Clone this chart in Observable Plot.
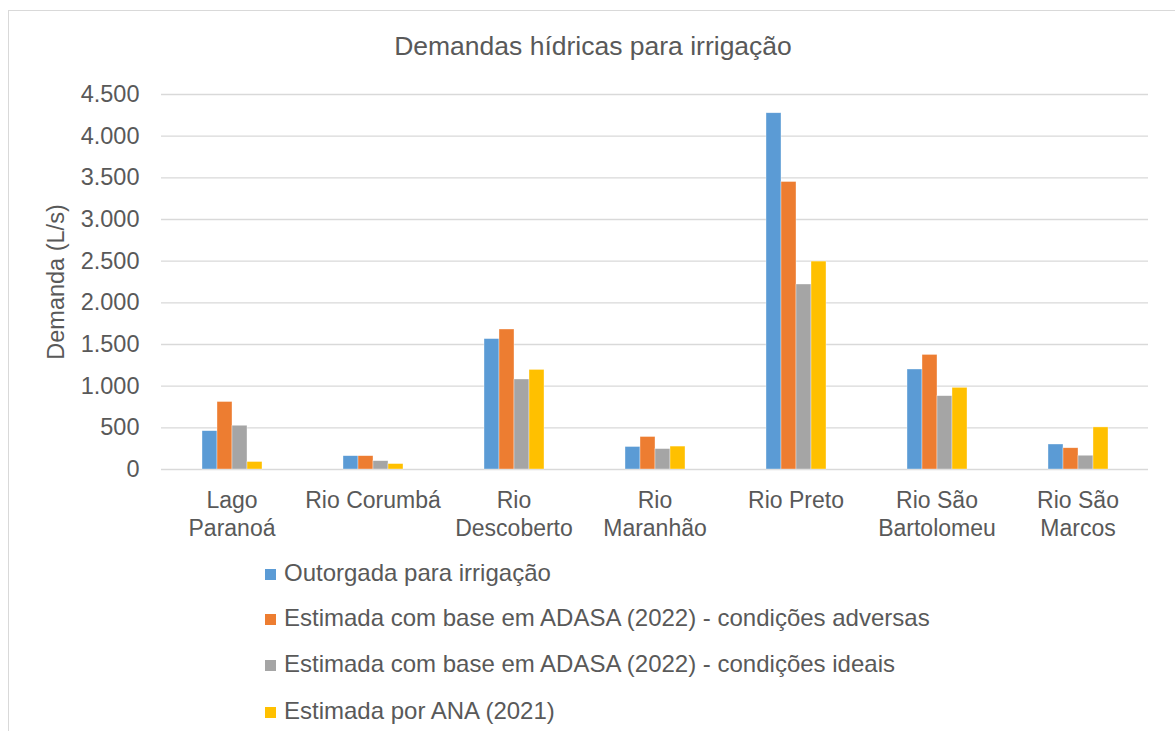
<!DOCTYPE html>
<html>
<head>
<meta charset="utf-8">
<script src="https://cdn.jsdelivr.net/npm/d3@7"></script>
<script src="https://cdn.jsdelivr.net/npm/@observablehq/plot@0.6"></script>
<style>
  body { margin: 0; background: #fff; font-family: "Liberation Sans", Arial, sans-serif; }
  #wrap { position: relative; width: 1175px; height: 731px; overflow: hidden; }
  #frame { position: absolute; left: 8px; top: 10px; width: 1200px; height: 800px; border-left: 1.5px solid #d9d9d9; border-top: 1.5px solid #d9d9d9; }
  #title { position: absolute; left: 393px; width: 400px; top: 30px; text-align: center; font-size: 26.5px; line-height: 32px; color: #595959; white-space: nowrap; }
  #ylabel { position: absolute; left: 56px; top: 282px; transform: translate(-50%, -50%) rotate(-90deg); font-size: 23.5px; color: #595959; white-space: nowrap; }
  #chart { position: absolute; left: 0; top: 0; }
  #legend { position: absolute; left: 265px; top: 0; }
  .item { position: absolute; left: 0; white-space: nowrap; font-size: 24px; line-height: 28px; color: #595959; }
  .sw { display: inline-block; width: 11px; height: 11px; margin-right: 8px; vertical-align: 1px; }
</style>
</head>
<body>
<div id="wrap">
  <div id="frame"></div>
  <div id="chart"></div>
  <div id="title"></div>
  <div id="ylabel"></div>
  <div id="legend"></div>
</div>
<script>
const title = "Demandas hídricas para irrigação";
const yLabel = "Demanda (L/s)";
const categories = ["Lago Paranoá", "Rio Corumbá", "Rio Descoberto", "Rio Maranhão", "Rio Preto", "Rio São Bartolomeu", "Rio São Marcos"];
const categoryLabels = ["Lago\nParanoá", "Rio Corumbá", "Rio\nDescoberto", "Rio\nMaranhão", "Rio Preto", "Rio São\nBartolomeu", "Rio São\nMarcos"];
const seriesNames = [
  "Outorgada para irrigação",
  "Estimada com base em ADASA (2022) - condições adversas",
  "Estimada com base em ADASA (2022) - condições ideais",
  "Estimada por ANA (2021)"
];
const seriesColors = ["#5B9BD5", "#ED7D31", "#A5A5A5", "#FFC000"];
const outorgada = [460, 160, 1565, 270, 4275, 1200, 300];
const adversas  = [810, 160, 1680, 390, 3450, 1375, 255];
const ideais    = [525, 100, 1080, 245, 2220, 880, 165];
const ana       = [90, 65, 1195, 275, 2495, 980, 505];
const yTicks = [0, 500, 1000, 1500, 2000, 2500, 3000, 3500, 4000, 4500];

const seriesValues = [outorgada, adversas, ideais, ana];
const data = [];
categories.forEach((c, i) => {
  seriesNames.forEach((s, j) => data.push({cat: c, series: s, value: seriesValues[j][i]}));
});
const labelOf = new Map(categories.map((c, i) => [c, categoryLabels[i]]));
const fmt = d => d3.format(",")(d).replace(/,/g, ".");

const plot = Plot.plot({
  width: 1175,
  height: 560,
  marginLeft: 158,
  marginRight: 25,
  marginTop: 94,
  marginBottom: 91,
  style: {fontFamily: "'Liberation Sans', Arial, sans-serif", color: "#595959", background: "transparent"},
  fx: {domain: categories, padding: 0},
  x: {domain: seriesNames, paddingInner: 0, paddingOuter: 2.51, axis: null},
  y: {domain: [0, 4500], axis: null},
  color: {domain: seriesNames, range: seriesColors},
  marks: [
    Plot.gridY(yTicks, {stroke: "#d9d9d9", strokeOpacity: 1, strokeWidth: 1.4}),
    Plot.barY(data, {fx: "cat", x: "series", y: "value", fill: "series", stroke: "#ffffff", strokeOpacity: 0.6, strokeWidth: 0.6, inset: 0}),
    Plot.axisY(yTicks, {tickSize: 0, tickPadding: 22, tickFormat: fmt, fontSize: 23.5, fill: "#595959", label: null}),
    Plot.axisFx({anchor: "bottom", tickSize: 0, tickPadding: 19, tickFormat: d => labelOf.get(d), fontSize: 23, lineHeight: 1.22, fill: "#595959", label: null})
  ]
});
document.getElementById("chart").appendChild(plot);
document.getElementById("title").textContent = title;
document.getElementById("ylabel").textContent = yLabel;

const legend = document.getElementById("legend");
const centers = [573, 618, 664, 711];
seriesNames.forEach((s, i) => {
  const d = document.createElement("div");
  d.className = "item";
  d.style.top = (centers[i] - 14) + "px";
  const sw = document.createElement("span");
  sw.className = "sw";
  sw.style.background = seriesColors[i];
  d.appendChild(sw);
  d.appendChild(document.createTextNode(s));
  legend.appendChild(d);
});
</script>
</body>
</html>
